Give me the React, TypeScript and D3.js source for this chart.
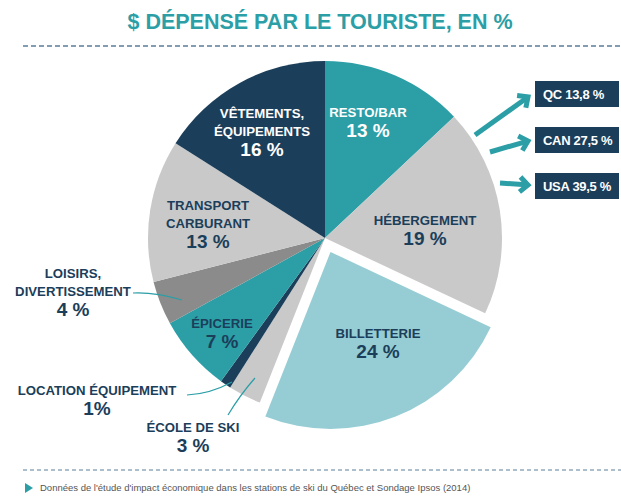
import React from "react";
import * as d3 from "d3";

const categories = [
  "RESTO/BAR",
  "HÉBERGEMENT",
  "BILLETTERIE",
  "ÉCOLE DE SKI",
  "LOCATION ÉQUIPEMENT",
  "ÉPICERIE",
  "LOISIRS, DIVERTISSEMENT",
  "TRANSPORT CARBURANT",
  "VÊTEMENTS, ÉQUIPEMENTS",
];
const values = [13, 19, 24, 3, 1, 7, 4, 13, 16];
const labelLines = [
  ["RESTO/BAR"],
  ["HÉBERGEMENT"],
  ["BILLETTERIE"],
  ["ÉCOLE DE SKI"],
  ["LOCATION ÉQUIPEMENT"],
  ["ÉPICERIE"],
  ["LOISIRS,", "DIVERTISSEMENT"],
  ["TRANSPORT", "CARBURANT"],
  ["VÊTEMENTS,", "ÉQUIPEMENTS"],
];
const percentLabels = ["13 %", "19 %", "24 %", "3 %", "1%", "7 %", "4 %", "13 %", "16 %"];
const originLabels = ["QC 13,8 %", "CAN 27,5 %", "USA 39,5 %"];
const title = "$ DÉPENSÉ PAR LE TOURISTE, EN %";
const footnote =
  "Données de l'étude d'impact économique dans les stations de ski du Québec et Sondage Ipsos (2014)";

// styling / layout (not data)
const TEAL = "#2b9ea6";
const NAVY = "#1b3e5a";
const LGREY = "#c9c9c9";
const DGREY = "#8b8b8b";
const LBLUE = "#96cdd4";
const sliceColors = [TEAL, LGREY, LBLUE, LGREY, NAVY, TEAL, DGREY, LGREY, NAVY];
const textColors = ["#fff", NAVY, NAVY, NAVY, NAVY, NAVY, NAVY, NAVY, "#fff"];
const explode = [0, 0, 15, 0, 0, 0, 0, 0, 0];
// label anchor: x center, baseline of first line
const labelPos: [number, number][] = [
  [368, 117],
  [425, 225],
  [378, 338],
  [193, 432],
  [97, 395],
  [222, 328],
  [73, 278],
  [208, 210],
  [262, 118],
];
const leaders: (string | null)[] = [
  null,
  null,
  null,
  "M228,415 Q240,395 255,378",
  "M187,395 Q210,394 232,382",
  null,
  "M133,293 Q155,292 182,300",
  null,
  null,
];

const FONT = "'Liberation Sans', Arial, Helvetica, sans-serif";

export default function App() {
  const W = 621;
  const H = 496;
  const cx = 325;
  const cy = 238;
  const R = 177;

  const pie = d3
    .pie<number>()
    .sort(null)
    .value((d) => d)
    .startAngle(0)
    .endAngle(2 * Math.PI);
  const arcs = pie(values);
  const arcGen = d3.arc<d3.PieArcDatum<number>>().innerRadius(0).outerRadius(R);

  const boxY = [81, 127, 173];
  const arrows = [
    { from: [475, 135], to: [528, 97] },
    { from: [490, 152], to: [528, 141] },
    { from: [500, 183], to: [528, 185] },
  ];

  const arrowHead = (from: number[], to: number[]) => {
    const ang = Math.atan2(to[1] - from[1], to[0] - from[0]);
    const L = 11;
    const a1 = ang + Math.PI - 0.75;
    const a2 = ang + Math.PI + 0.75;
    return `M${to[0] + L * Math.cos(a1)},${to[1] + L * Math.sin(a1)} L${to[0]},${to[1]} L${
      to[0] + L * Math.cos(a2)
    },${to[1] + L * Math.sin(a2)}`;
  };

  return (
    <svg
      width={W}
      height={H}
      style={{ position: "absolute", left: 0, top: 0, background: "#fff" }}
      fontFamily={FONT}
    >
      <text
        x={320}
        y={29}
        textAnchor="middle"
        fontSize={21.5}
        fontWeight="bold"
        fill={TEAL}
      >
        {title}
      </text>
      <line x1={23} x2={621} y1={46} y2={46} stroke="#5a7d98" strokeWidth={1.3} strokeDasharray="5,3" />

      <g transform={`translate(${cx},${cy})`}>
        {arcs.map((a, i) => {
          const mid = (a.startAngle + a.endAngle) / 2;
          const dx = Math.sin(mid) * explode[i];
          const dy = -Math.cos(mid) * explode[i];
          return (
            <path
              key={categories[i]}
              d={arcGen(a) || ""}
              fill={sliceColors[i]}
              transform={`translate(${dx},${dy})`}
            />
          );
        })}
      </g>

      {leaders.map((p, i) =>
        p ? <path key={"l" + i} d={p} fill="none" stroke={TEAL} strokeWidth={1.2} /> : null
      )}

      {labelLines.map((lines, i) => {
        const [x, y] = labelPos[i];
        return (
          <text key={"t" + i} textAnchor="middle" fill={textColors[i]} fontWeight="bold">
            {lines.map((ln, j) => (
              <tspan key={j} x={x} y={y + j * 18} fontSize={13.2}>
                {ln}
              </tspan>
            ))}
            <tspan x={x} y={y + lines.length * 18 + 2} fontSize={19}>
              {percentLabels[i]}
            </tspan>
          </text>
        );
      })}

      {arrows.map((a, i) => (
        <g key={"a" + i} stroke={TEAL} strokeWidth={5} fill="none" strokeLinejoin="miter">
          <line x1={a.from[0]} y1={a.from[1]} x2={a.to[0] - 2 * Math.cos(Math.atan2(a.to[1] - a.from[1], a.to[0] - a.from[0]))} y2={a.to[1] - 2 * Math.sin(Math.atan2(a.to[1] - a.from[1], a.to[0] - a.from[0]))} />
          <path d={arrowHead(a.from, a.to)} />
        </g>
      ))}

      {originLabels.map((t, i) => (
        <g key={"b" + i}>
          <rect x={535} y={boxY[i]} width={84} height={26} fill={NAVY} />
          <text x={543} y={boxY[i] + 18} fontSize={13} fontWeight="bold" fill="#fff" letterSpacing={-0.3}>
            {t}
          </text>
        </g>
      ))}

      <line x1={23} x2={621} y1={470} y2={470} stroke="#5a7d98" strokeWidth={1} strokeDasharray="4,3" />
      <path d="M25,483 L33,488 L25,493 Z" fill={TEAL} />
      <text x={40} y={491} fontSize={9.5} fill="#555">
        {footnote}
      </text>
    </svg>
  );
}
